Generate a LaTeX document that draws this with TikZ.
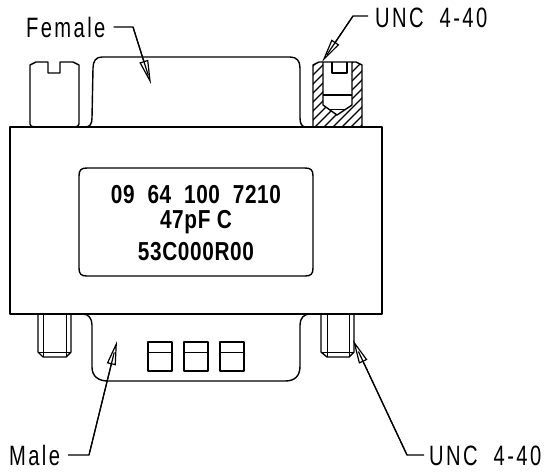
\documentclass[tikz,border=0pt]{standalone}
\usepackage{fontspec}
\setmainfont{Liberation Sans}
\newfontfamily\calloutfont[LetterSpace=12]{Liberation Sans}
\newfontfamily\platefont[LetterSpace=3]{Liberation Sans}
\usetikzlibrary{arrows.meta,calc}
\tikzset{
	outline/.style={line width=1.4pt,line join=round},
	thinline/.style={line width=1pt},
	hatchline/.style={line width=1.1pt},
	leader/.style={line width=1.2pt,line join=round,-{Triangle[open,length=24pt,width=9pt,line width=1.2pt]}},
	spine/.style={line width=1.2pt,line join=round},
	callout/.style={inner sep=0pt,font=\fontsize{28}{28}\calloutfont,xscale=0.72,anchor=base west},
	plateline/.style={inner sep=0pt,font=\fontsize{26}{26}\platefont\bfseries,xscale=0.8,anchor=base},
}

\begin{document}
\begin{tikzpicture}[x=1pt,y=-1pt]
	\useasboundingbox (0,0) rectangle (545,472);

	\draw[outline] (10,127) rectangle (382,314);
	\draw[outline] (79,176) .. controls (79,170) and (81,168) .. (87,168) -- (305,168) .. controls (311,168) and (313,170) .. (313,176)
		-- (313,268) .. controls (313,274) and (311,276) .. (305,276) -- (87,276) .. controls (81,276) and (79,274) .. (79,268) -- cycle;

	\draw[outline] (85,127) .. controls (90,127) and (92,124) .. (92,118) -- (93,68) .. controls (93,61) and (96,57) .. (102,57) -- (290,57) .. controls (297,57) and (300,61) .. (300,68) -- (300,118) .. controls (300,124) and (302,127) .. (306,127);

	\draw[outline] (35,127) .. controls (32,127) and (30,126) .. (30,124) -- (30,65) -- (36,62) -- (48,62) -- (48,73) -- (60,73) -- (60,62) -- (73,62) -- (79,65) -- (79,124) .. controls (79,126) and (77,127) .. (74,127);

	\begin{scope}
		\clip (313,65) -- (319,62) -- (356,62) -- (362,65) -- (362,127) -- (313,127) -- cycle;
		\foreach \hatchpos in {-70,-61,...,90} {
			\draw[hatchline] (300+\hatchpos,140) -- (300+\hatchpos+80,60);
		}
	\end{scope}
	\fill[white] (323,62) -- (323,105) -- (337,115) -- (352,105) -- (352,62) -- cycle;
	\draw[outline] (313,127) -- (313,65) -- (319,62) -- (356,62) -- (362,65) -- (362,127);
	\draw[outline] (323,62) -- (323,105) -- (337,115) -- (352,105) -- (352,62);
	\draw[outline] (323,95) -- (352,95);
	\draw[thinline] (329,109) -- (346,109);
	\draw[outline] (332,62) -- (332,73) -- (347,73) -- (347,62);

	\draw[outline] (83,314) .. controls (88,314) and (92,318) .. (92,325) -- (92,367) .. controls (92,376) and (98,381) .. (108,381) -- (285,381) .. controls (295,381) and (300,376) .. (300,366) -- (300,325) .. controls (300,318) and (304,314) .. (310,314);

	\draw[outline] (38,314) -- (38,352) -- (43,357) -- (66,357) -- (71,352) -- (71,314);
	\draw[thinline] (43,314) -- (43,357) (66,314) -- (66,357) (38,352) -- (71,352);
	\draw[outline] (321,314) -- (321,352) -- (327,357) -- (349,357) -- (354,352) -- (354,314);
	\draw[thinline] (327,314) -- (327,357) (349,314) -- (349,357) (321,352) -- (354,352);

	\foreach \slotx in {148,184,220} {
		\draw[outline] (\slotx,342) rectangle (\slotx+24,371);
		\draw[thinline] (\slotx,352) -- (\slotx+24,352);
	}

	\node[plateline] (partno) at (196,203) {09~~64~~100~~7210};
	\node[plateline] (capval) at (196,228) {47pF C};
	\node[plateline] (serial) at (196,260) {53C000R00};

	\node[callout] (female) at (26,37) {Female};
	\node[callout] (unctop) at (375,27) {UNC~~4-40};
	\node[callout] (male) at (9,465) {Male};
	\node[callout] (uncbot) at (429,465) {UNC~~4-40};

	\coordinate (femalebend) at (133,27);
	\coordinate (femaletip) at (151,84);
	\coordinate (unctopbend) at (353,16);
	\coordinate (unctoptip) at (322,62);
	\coordinate (malebend) at (89,455);
	\coordinate (maletip) at (117,341);
	\coordinate (uncbotbend) at (407,455);
	\coordinate (uncbottip) at (353,340);

	\draw[spine] (female.east |- femalebend) ++(8,0) -- (femalebend) -- ($(femalebend)!0.85!(femaletip)$);
	\draw[leader] (femalebend) -- (femaletip);
	\draw[spine] (unctop.west |- unctopbend) ++(-7,0) -- (unctopbend) -- ($(unctopbend)!0.85!(unctoptip)$);
	\draw[leader] (unctopbend) -- (unctoptip);
	\draw[spine] (male.east |- malebend) ++(8,0) -- (malebend) -- ($(malebend)!0.9!(maletip)$);
	\draw[leader] (malebend) -- (maletip);
	\draw[spine] (uncbot.west |- uncbotbend) ++(-5,0) -- (uncbotbend) -- ($(uncbotbend)!0.9!(uncbottip)$);
	\draw[leader] (uncbotbend) -- (uncbottip);
\end{tikzpicture}
\end{document}
